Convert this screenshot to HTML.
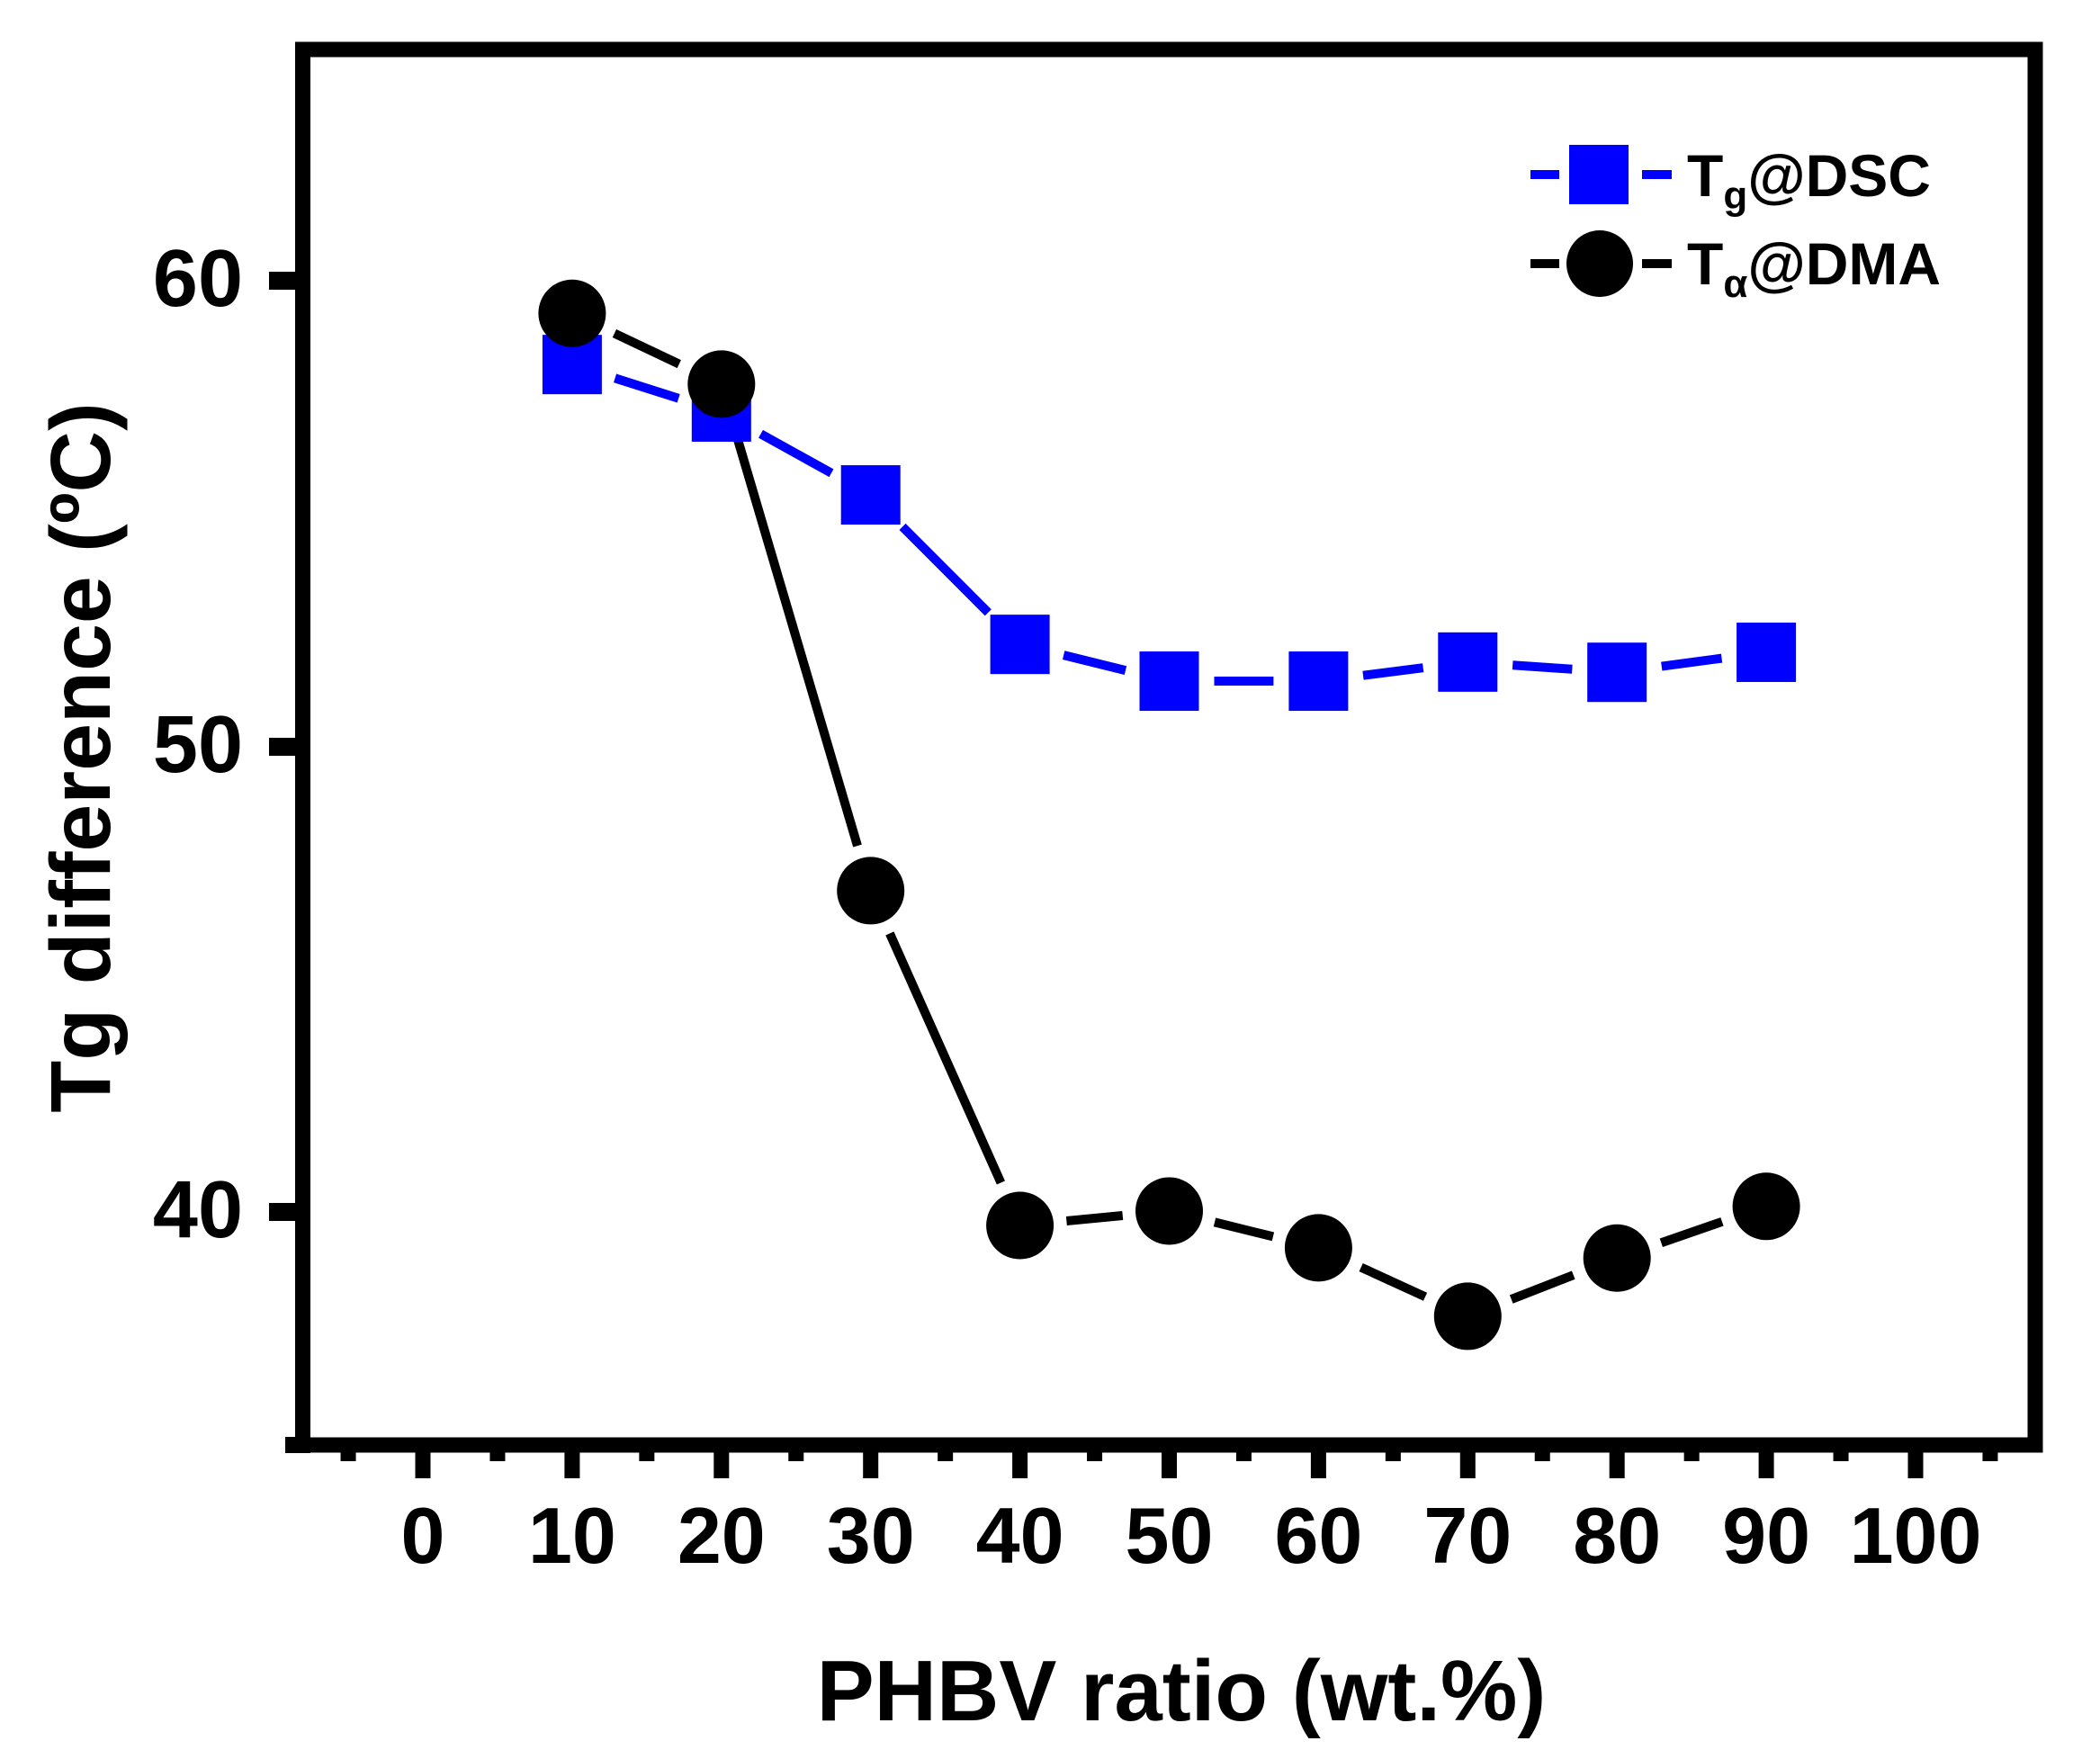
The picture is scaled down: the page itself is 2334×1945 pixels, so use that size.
<!DOCTYPE html>
<html><head><meta charset="utf-8"><style>
html,body{margin:0;padding:0;background:#fff;}
svg{display:block;}
text{font-family:"Liberation Sans",Arial,sans-serif;font-weight:bold;fill:#000;}
</style></head><body>
<svg id="s" width="2334" height="1945" viewBox="0 0 2334 1945" xmlns="http://www.w3.org/2000/svg">
<rect x="0" y="0" width="2334" height="1945" fill="#fff"/>
<g id="plot"></g>
<rect x="336.5" y="55" width="1925.5" height="1551" fill="none" stroke="#000" stroke-width="17"/>
<rect x="317" y="1597" width="28" height="18" fill="#000"/>
<rect x="299" y="302" width="30" height="20" fill="#000"/>
<rect x="299" y="820" width="30" height="20" fill="#000"/>
<rect x="299" y="1337" width="30" height="20" fill="#000"/>
<g id="xt"></g>
<text x="270" y="340" font-size="90" text-anchor="end">60</text>
<text x="270" y="858" font-size="90" text-anchor="end">50</text>
<text x="270" y="1375" font-size="90" text-anchor="end">40</text>
<g id="xl" font-size="88" text-anchor="middle"></g>
<text x="1313" y="1912" font-size="96" text-anchor="middle">PHBV ratio (wt.%)</text>
<text transform="translate(122,842) rotate(-90)" font-size="95" text-anchor="middle">Tg difference (ºC)</text>
<rect x="1701" y="189" width="32" height="10" fill="#0000ff"/>
<rect x="1825" y="189" width="33" height="10" fill="#0000ff"/>
<rect x="1744" y="161" width="66" height="66" fill="#0000ff"/>
<text x="1875" y="218" font-size="66">T<tspan font-size="44" dy="14">g</tspan><tspan dy="-14">@DSC</tspan></text>
<rect x="1701" y="288" width="32" height="10" fill="#000"/>
<rect x="1825" y="288" width="33" height="10" fill="#000"/>
<circle cx="1778" cy="293" r="37" fill="#000"/>
<text x="1875" y="316" font-size="66">T<tspan font-size="44" dy="14">α</tspan><tspan dy="-14">@DMA</tspan></text>
</svg>
<script>
var NS="http://www.w3.org/2000/svg";
function X(v){return 470+v*16.59;}
function Y(v){return 312+(60-v)*51.75;}
var xs=[10,20,30,40,50,60,70,80,90];
var dsc=[58.2,57.18,55.4,52.19,51.40,51.40,51.81,51.59,52.02];
var dma=[59.30,57.78,46.9,39.71,40.02,39.23,37.76,39.01,40.12];
var plot=document.getElementById('plot');
function el(t,a,p){var e=document.createElementNS(NS,t);for(var k in a)e.setAttribute(k,a[k]);(p||plot).appendChild(e);return e;}
function lines(ys,col,gap){
 for(var i=0;i<ys.length-1;i++){
  var x1=X(xs[i]),y1=Y(ys[i]),x2=X(xs[i+1]),y2=Y(ys[i+1]);
  var dx=x2-x1,dy=y2-y1,L=Math.sqrt(dx*dx+dy*dy);
  if(L<2*gap+5)continue;
  var ux=dx/L,uy=dy/L;
  el('line',{x1:x1+ux*gap,y1:y1+uy*gap,x2:x2-ux*gap,y2:y2-uy*gap,stroke:col,'stroke-width':10});
 }
}
lines(dsc,'#0000ff',50);
lines(dma,'#000',52);
for(var i=0;i<xs.length;i++){
 el('rect',{x:X(xs[i])-33,y:Y(dsc[i])-33,width:66,height:66,fill:'#0000ff'});
}
for(var i=0;i<xs.length;i++){
 el('circle',{cx:X(xs[i]),cy:Y(dma[i]),r:37.5,fill:'#000'});
}
var xt=document.getElementById('xt'),xl=document.getElementById('xl');
for(var v=-5;v<=105;v+=5){
 var major=(v%10===0);
 el('rect',{x:X(v)-8.5,y:1610,width:17,height:major?33:14,fill:'#000'},xt);
 if(major&&v>=0&&v<=100){var t=el('text',{x:X(v),y:1737},xl);t.textContent=v;}
}
</script>
</body></html>
